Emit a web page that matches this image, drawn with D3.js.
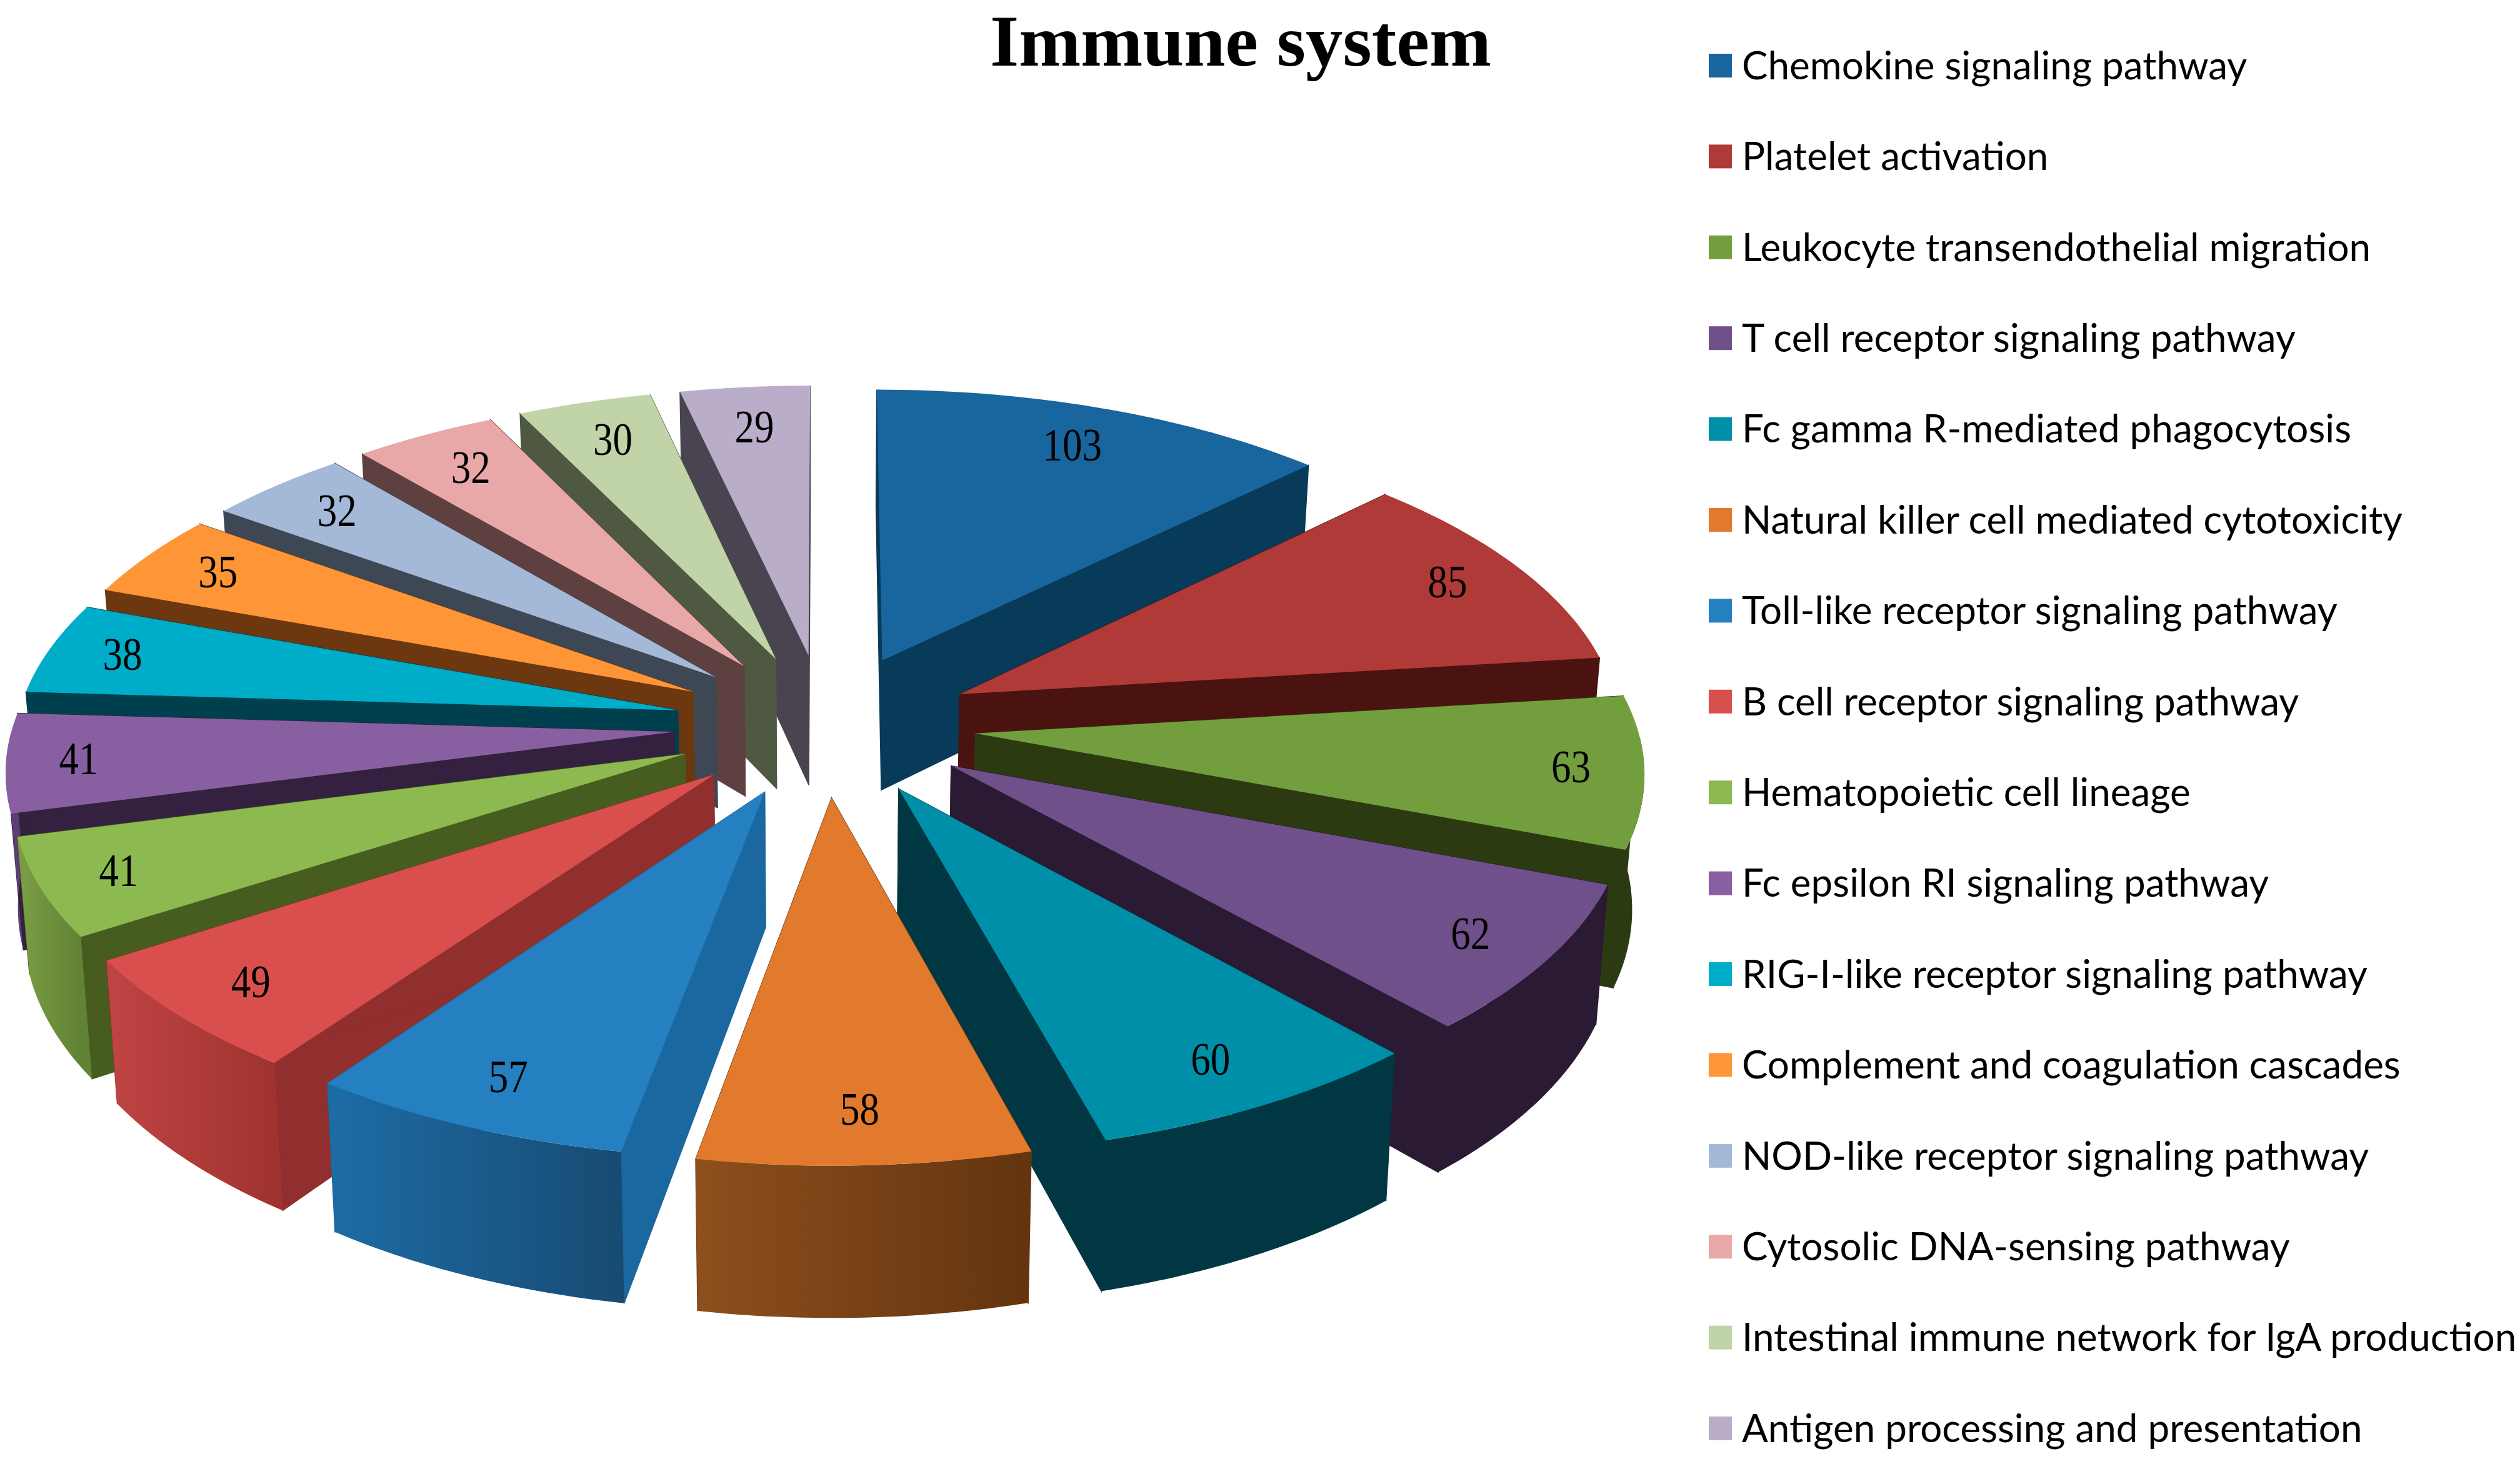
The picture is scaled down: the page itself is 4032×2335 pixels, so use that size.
<!DOCTYPE html>
<html>
<head>
<meta charset="utf-8">
<script src="https://d3js.org/d3.v7.min.js"></script>
<style>
  html, body { margin: 0; padding: 0; background: #fff; }
</style>
</head>
<body>
<div id="chart"></div>
<script>
// Chart data
const pathways = [
    'Chemokine signaling pathway',
    'Platelet activation',
    'Leukocyte transendothelial migration',
    'T cell receptor signaling pathway',
    'Fc gamma R-mediated phagocytosis',
    'Natural killer cell mediated cytotoxicity',
    'Toll-like receptor signaling pathway',
    'B cell receptor signaling pathway',
    'Hematopoietic cell lineage',
    'Fc epsilon RI signaling pathway',
    'RIG-I-like receptor signaling pathway',
    'Complement and coagulation cascades',
    'NOD-like receptor signaling pathway',
    'Cytosolic DNA-sensing pathway',
    'Intestinal immune network for IgA production',
    'Antigen processing and presentation'
];
const geneCounts = [103, 85, 63, 62, 60, 58, 57, 49, 41, 41, 38, 35, 32, 32, 30, 29];

// Colours of the top face, the radial walls and the curved wall (left to right)
const topColors = ['#19659d', '#b03a38', '#729e3e', '#70508a', '#008fa8', '#e17a2c', '#2580c2', '#d94f4d',
    '#8cba50', '#8860a1', '#00adc8', '#fe9537', '#a4b9d8', '#e8a8a7', '#c0d4a7', '#baadc9'];
const sideColors = ['#083a5a', '#4a1310', '#2c3a12', '#2a1a33', '#003743', '#6d3710', '#1a689f', '#902f2d',
    '#475c1f', '#33213f', '#00404e', '#6d3710', '#3e4854', '#5e4040', '#4f5840', '#4a4350'];
const outerStart = ['#083a5a', '#4a1310', '#2c3a12', '#2a1a33', '#003743', '#8d4f1d', '#1d6ca5', '#bf4543',
    '#7b9f45', '#6d4c85', '#00404e', '#6d3710', '#3e4854', '#5e4040', '#4f5840', '#4a4350'];
const outerEnd = ['#083a5a', '#4a1310', '#2c3a12', '#2a1a33', '#003743', '#63340f', '#174b73', '#a0332f',
    '#628235', '#5c3d75', '#00404e', '#6d3710', '#3e4854', '#5e4040', '#4f5840', '#4a4350'];

const width = 4032;
const height = 2335;
const svg = d3
    .select('#chart')
    .append('svg')
    .attr('width', width)
    .attr('height', height)
    .style('display', 'block');
const defs = svg.append('defs');

svg.append('text')
    .attr('x', 1985)
    .attr('y', 105)
    .attr('text-anchor', 'middle')
    .attr('font-family', '"Liberation Serif"')
    .attr('font-weight', 'bold')
    .attr('font-size', 116)
    .attr('textLength', 802)
    .attr('lengthAdjust', 'spacingAndGlyphs')
    .text('Immune system');

// Perspective view of the ground plane: u to the right, v towards the viewer
const xScale = d3.scaleLinear().domain([-1, 1]).range([1320 - 1300, 1320 + 1300]);
const yScale = d3.scaleLinear().domain([-1, 1]).range([1160 - 614, 1160 + 614]);
const perspective = 0.13;
const wallHeight = 212;
const radius = 0.814;
const explode = 0.186;

function project(u, v) {
    const s = 1 / (1 - perspective * v);
    return { x: xScale(u * s), y: yScale(v * s), s };
}
// Point straight below a top-face point
function below(p) {
    const cx = xScale(0);
    return { x: cx + (p.x - cx) * 0.985, y: p.y + wallHeight * p.s };
}

const pie = d3.pie().sort(null).value((d) => d.value);
const slices = pie(geneCounts.map((value, i) => ({ value, i })));

function polygon(points) {
    return d3.line().x((p) => p.x).y((p) => p.y)(points) + 'Z';
}

// Back slices are painted first
const ordered = slices.slice().sort(
    (a, b) => -Math.cos((a.startAngle + a.endAngle) / 2) + Math.cos((b.startAngle + b.endAngle) / 2)
);

const pieGroup = svg.append('g');
ordered.forEach((d) => {
    const i = d.data.i;
    const mid = (d.startAngle + d.endAngle) / 2;
    const tipU = explode * Math.sin(mid);
    const tipV = -explode * Math.cos(mid);
    const at = (a) => project(tipU + radius * Math.sin(a), tipV - radius * Math.cos(a));

    const tip = project(tipU, tipV);
    const arcAngles = d3.range(0, 41).map((k) => d.startAngle + ((d.endAngle - d.startAngle) * k) / 40);
    const rim = arcAngles.map((a) => at(a));
    const g = pieGroup.append('g').attr('class', 'slice');

    // Radial walls
    [rim[0], rim[rim.length - 1]].forEach((corner) => {
        g.append('path')
            .attr('d', polygon([tip, corner, below(corner), below(tip)]))
            .attr('fill', sideColors[i])
            .attr('stroke', sideColors[i])
            .attr('stroke-width', 1.5);
    });

    // Curved wall, only where it faces the viewer
    const visible = arcAngles.filter((a) => Math.cos(a) < 0).map((a) => at(a));
    if (visible.length > 1) {
        const gradient = defs
            .append('linearGradient')
            .attr('id', `wall-${i}`)
            .attr('gradientUnits', 'userSpaceOnUse')
            .attr('x1', d3.min(visible, (p) => p.x))
            .attr('x2', d3.max(visible, (p) => p.x))
            .attr('y1', 0)
            .attr('y2', 0);
        gradient.append('stop').attr('offset', 0).attr('stop-color', outerStart[i]);
        gradient.append('stop').attr('offset', 1).attr('stop-color', outerEnd[i]);
        g.append('path')
            .attr('d', polygon(visible.concat(visible.slice().reverse().map(below))))
            .attr('fill', `url(#wall-${i})`);
    }

    // Top face
    g.append('path')
        .attr('d', polygon([tip].concat(rim)))
        .attr('fill', topColors[i]);
});

// Value labels sit on top of every slice, a bit further in at the back and front
svg.append('g')
    .selectAll('text')
    .data(slices)
    .enter()
    .append('text')
    .each(function (d) {
        const mid = (d.startAngle + d.endAngle) / 2;
        const c = Math.cos(mid);
        const f = 0.895 - 0.06 * Math.max(0, c) - 0.03 * Math.max(0, -c);
        const p = project(
            (explode + radius * f) * Math.sin(mid),
            -(explode + radius * f) * c
        );
        d3.select(this).attr('x', p.x).attr('y', p.y);
    })
    .attr('dy', '0.31em')
    .attr('text-anchor', 'middle')
    .attr('font-family', '"Liberation Serif"')
    .attr('font-size', 74)
    .attr('textLength', (d) => String(d.value).length * 31.5)
    .attr('lengthAdjust', 'spacingAndGlyphs')
    .attr('fill', '#000')
    .text((d) => d.value);

// Legend
const legendY = d3.scalePoint().domain(pathways).range([105, 2286]);
const legend = svg
    .append('g')
    .selectAll('g')
    .data(pathways)
    .enter()
    .append('g')
    .attr('transform', (d) => `translate(2734, ${legendY(d)})`);
legend
    .append('rect')
    .attr('y', -19)
    .attr('width', 37)
    .attr('height', 38)
    .attr('fill', (d, i) => topColors[i]);
legend
    .append('text')
    .attr('x', 53)
    .attr('dy', '0.35em')
    .attr('font-family', 'Lato')
    .attr('font-size', 62)
    .attr('fill', '#000')
    .text((d) => d);
</script>
</body>
</html>
